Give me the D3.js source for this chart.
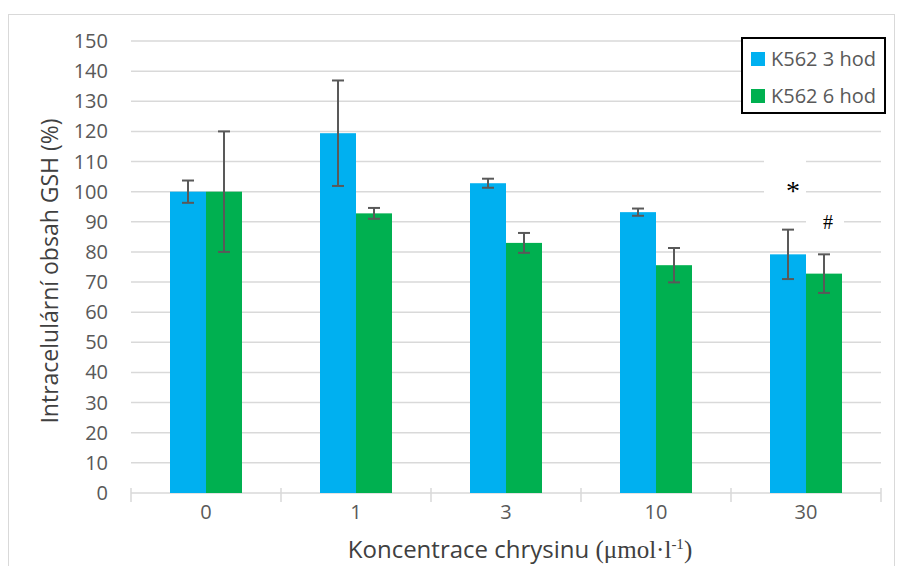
<!DOCTYPE html>
<html>
<head>
<meta charset="utf-8">
<script src="https://cdn.jsdelivr.net/npm/d3@7"></script>
<style>
  body { margin: 0; background: #fff; }
  text { font-family: "Open Sans", sans-serif; }
</style>
</head>
<body>
<div id="chart"></div>
<script>
var categories = ["0", "1", "3", "10", "30"];
var seriesNames = ["K562 3 hod", "K562 6 hod"];
var values3h = [100, 119.4, 102.8, 93.2, 79.2];
var values6h = [100, 92.8, 83.0, 75.6, 72.8];
var err3h = [3.7, 17.5, 1.5, 1.2, 8.2];
var err6h = [20, 1.8, 3.3, 5.7, 6.4];
var marks3h = ["", "", "", "", "*"];
var marks6h = ["", "", "", "", "#"];
var yTicks = d3.range(0, 151, 10);

var W = 902, H = 566;
var margin = {top: 41, right: 21, bottom: 73, left: 131},
  width = W - margin.left - margin.right,
  height = H - margin.top - margin.bottom;

var colors = ["#00b0f0", "#00b050"];

var svg = d3.select("#chart").append("svg")
  .attr("width", W)
  .attr("height", H);

// outer chart border
svg.append("rect")
  .attr("x", 8.5).attr("y", 14.5)
  .attr("width", 886).attr("height", 570)
  .attr("fill", "none").attr("stroke", "#d9d9d9");

var g = svg.append("g")
  .attr("transform", "translate(" + margin.left + "," + margin.top + ")");

var x = d3.scaleBand().domain(categories).range([0, width]);
var x1 = d3.scaleBand().domain([0, 1]).range([x.bandwidth() / 2 - 36, x.bandwidth() / 2 + 36]);
var y = d3.scaleLinear().domain([0, 150]).range([height, 0]);

// grid
g.selectAll(".grid")
  .data(yTicks.slice(1))
  .enter().append("line")
  .attr("x1", 0).attr("x2", width)
  .attr("y1", function(d) { return y(d); })
  .attr("y2", function(d) { return y(d); })
  .attr("stroke", "#d9d9d9").attr("stroke-width", 1.5);

// y labels
g.selectAll(".ylab")
  .data(yTicks)
  .enter().append("text")
  .attr("x", -23)
  .attr("y", function(d) { return y(d); })
  .attr("dy", "0.35em")
  .attr("text-anchor", "end")
  .style("font-size", "20px")
  .attr("fill", "#595959")
  .text(function(d) { return d; });

// x axis
var xAxis = d3.axisBottom(x).tickSize(0).tickPadding(12);
var ax = g.append("g")
  .attr("transform", "translate(0," + height + ")")
  .call(xAxis);
ax.select(".domain").remove();
ax.selectAll("text")
  .style("font-family", "Open Sans, sans-serif")
  .style("font-size", "20px")
  .attr("fill", "#595959");
ax.append("line")
  .attr("x1", 0).attr("x2", width)
  .attr("stroke", "#d9d9d9").attr("stroke-width", 1.5);
ax.selectAll(".sep")
  .data(d3.range(categories.length + 1))
  .enter().append("line")
  .attr("x1", function(d) { return d * x.step(); })
  .attr("x2", function(d) { return d * x.step(); })
  .attr("y1", -5).attr("y2", 9)
  .attr("stroke", "#d9d9d9").attr("stroke-width", 1.5);

// bars
var series = [
  {vals: values3h, errs: err3h, marks: marks3h},
  {vals: values6h, errs: err6h, marks: marks6h}
];

series.forEach(function(s, si) {
  var grp = g.append("g");
  grp.selectAll("rect")
    .data(categories)
    .enter().append("rect")
    .attr("x", function(d) { return x(d) + x1(si); })
    .attr("width", x1.bandwidth())
    .attr("y", function(d, i) { return y(s.vals[i]); })
    .attr("height", function(d, i) { return y(0) - y(s.vals[i]); })
    .attr("fill", colors[si]);
});

series.forEach(function(s, si) {
  categories.forEach(function(c, i) {
    var cx = x(c) + x1(si) + x1.bandwidth() / 2;
    var top = y(s.vals[i] + s.errs[i]), bot = y(s.vals[i] - s.errs[i]);
    var eg = g.append("g").attr("stroke", "#595959").attr("stroke-width", 2);
    eg.append("line").attr("x1", cx).attr("x2", cx).attr("y1", top).attr("y2", bot);
    eg.append("line").attr("x1", cx - 6).attr("x2", cx + 6).attr("y1", top).attr("y2", top);
    eg.append("line").attr("x1", cx - 6).attr("x2", cx + 6).attr("y1", bot).attr("y2", bot);
  });
});

// significance marks (labels with white background, as in the original)
series.forEach(function(s, si) {
  categories.forEach(function(c, i) {
    if (!s.marks[i]) return;
    var cx = x(c) + x1(si) + x1.bandwidth() / 2;
    var topErr = y(s.vals[i] + s.errs[i]);
    if (si === 0) {
      g.append("rect").attr("x", x(c) + x1(si) - 6).attr("y", y(110) - 2)
        .attr("width", 42).attr("height", y(90) - y(110))
        .attr("fill", "#fff");
      g.append("text").attr("x", cx + 5).attr("y", topErr - 30)
        .attr("text-anchor", "middle").style("font-size", "28px")
        .style("font-family", "Liberation Serif, serif")
        .attr("fill", "#000").text(s.marks[i]);
    } else {
      g.append("rect").attr("x", x(c) + x1(si)).attr("y", y(92))
        .attr("width", 38).attr("height", 8)
        .attr("fill", "#fff");
      g.append("text").attr("x", cx + 4).attr("y", topErr - 25)
        .attr("text-anchor", "middle").style("font-size", "20px")
        .style("font-family", "Liberation Serif, serif")
        .attr("fill", "#000").text(s.marks[i]);
    }
  });
});

// legend
var lg = svg.append("g").attr("transform", "translate(742,38)");
lg.append("rect").attr("width", 143).attr("height", 75)
  .attr("fill", "#fff").attr("stroke", "#000").attr("stroke-width", 2);
seriesNames.forEach(function(n, i) {
  lg.append("rect").attr("x", 9).attr("y", 14 + i * 37).attr("width", 14).attr("height", 14)
    .attr("fill", colors[i]);
  lg.append("text").attr("x", 29).attr("y", 21 + i * 37).attr("dy", "0.35em")
    .style("font-size", "20px").attr("fill", "#595959").text(n);
});

// axis titles
var xt = svg.append("text")
  .attr("x", 520).attr("y", 558)
  .attr("text-anchor", "middle")
  .style("font-size", "24px").attr("fill", "#404040");
xt.append("tspan").text("Koncentrace chrysinu ");
xt.append("tspan").style("font-family", "Liberation Serif, serif").style("font-size", "25px").text("(μmol·l");
xt.append("tspan").style("font-family", "Liberation Serif, serif").style("font-size", "15px").attr("dy", -9).text("-1");
xt.append("tspan").style("font-family", "Liberation Serif, serif").style("font-size", "25px").attr("dy", 9).text(")");

svg.append("text")
  .attr("transform", "translate(58," + 271 + ") rotate(-90)")
  .attr("text-anchor", "middle")
  .style("font-size", "23px").attr("fill", "#404040")
  .text("Intracelulární obsah GSH (%)");
</script>
</body>
</html>
